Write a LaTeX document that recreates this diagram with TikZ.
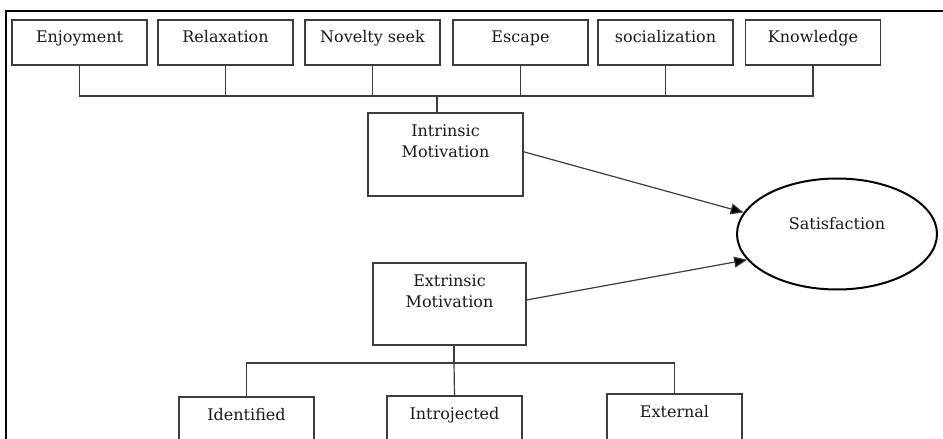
\documentclass[tikz,border=0pt]{standalone}
\usepackage{fontspec}
\setmainfont{DejaVu Serif}
\usetikzlibrary{shapes.geometric}
\usetikzlibrary{arrows.meta}
\definecolor{boxgray}{RGB}{60,60,60}

\begin{document}
\begin{tikzpicture}[x=1pt, y=-1pt,
	every node/.style={font=\fontsize{16}{21}\selectfont, text=black!90},
	factor/.style={draw=boxgray, line width=1.3pt, minimum width=135pt, inner sep=0pt, text height=22.7pt, text depth=22.3pt},
	motive/.style={draw=boxgray, line width=1.3pt, inner sep=0pt, align=center, text height=44pt},
	link/.style={draw=boxgray, line width=1.2pt}]
	\useasboundingbox (0,0) rectangle (943,439);
	\clip (0,0) rectangle (943,439);
	
	% frame of the screenshot
	\draw[line width=2.5pt] (6,439) -- (6,11) -- (943,11);
	
	% intrinsic factors
	\node[factor] (enj) at (79.5,42.5) {Enjoyment};
	\node[factor] (rel) at (225.5,42.5) {Relaxation};
	\node[factor] (nov) at (372.5,42.5) {Novelty seek};
	\node[factor] (esc) at (520.5,42.5) {Escape};
	\node[factor] (soc) at (665.5,42.5) {socialization};
	\node[factor] (know) at (813,42.5) {Knowledge};
	
	\node[motive, minimum width=155pt, text depth=39pt] (intr) at (445.5,154.5) {Intrinsic\\Motivation};
	\node[motive, minimum width=153pt, text depth=38pt] (extr) at (449.5,304) {Extrinsic\\Motivation};
	
	\node[ellipse, draw=black, line width=2pt, minimum width=200pt, minimum height=111pt, text height=12pt, text depth=22pt] (sat) at (837,234) {Satisfaction};
	
	% extrinsic factors, cut off at the bottom
	\node[factor, text height=23pt, text depth=40pt] (ident) at (246.5,428.5) {Identified};
	\node[factor, text height=23pt, text depth=40pt] (intro) at (454.5,427.5) {Introjected};
	\node[factor, text height=23pt, text depth=40pt] (extl) at (674.5,425.5) {External};
	
	\coordinate (topbar) at (437,96);
	\draw[link] (enj.south) |- (topbar) -| (know.south);
	\foreach \n in {rel,nov,esc,soc}
		\draw[link] (\n.south) -- (\n.south |- topbar);
	\draw[link] (topbar) -- (topbar |- intr.north);
	
	\coordinate (botbar) at (454,363);
	\draw[link] (extr.south -| botbar) -- (botbar);
	\draw[link] (ident.north) |- (botbar) -| (extl.north);
	\draw[link] (botbar) -- (intro.north);
	
	\draw[link, -{Triangle[length=13pt,width=11pt,fill=black]}] (intr.2) -- (sat.167);
	\draw[link, -{Triangle[length=13pt,width=11pt,fill=black]}] (extr.3) -- (sat.196);
	
\end{tikzpicture}
\end{document}
